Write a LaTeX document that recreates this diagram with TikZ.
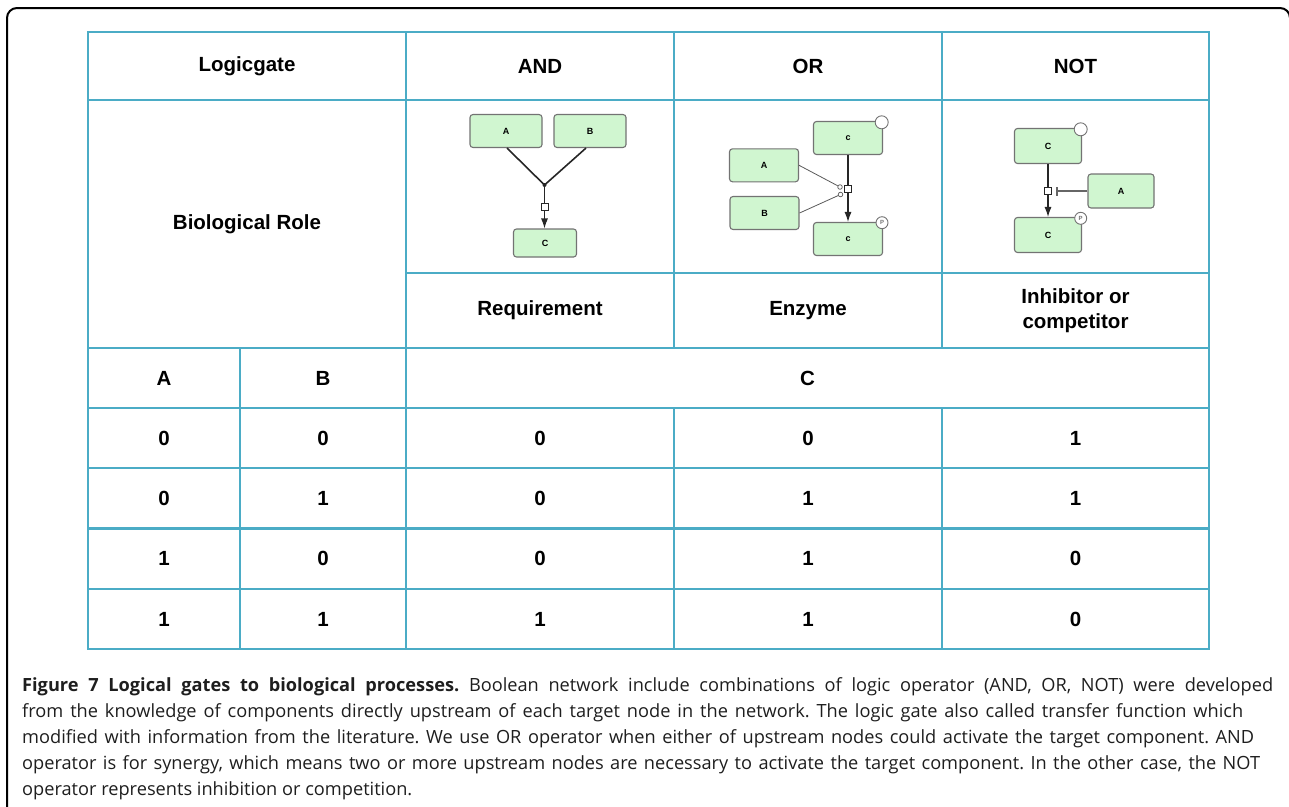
\documentclass[tikz,border=0pt]{standalone}
\usepackage{fontspec}
\setmainfont{Liberation Sans}
\newfontfamily\capfont{Open Sans}
\usetikzlibrary{arrows.meta}
\definecolor{tbl}{RGB}{75,172,198}
\definecolor{boxg}{RGB}{208,246,208}
\definecolor{boxb}{RGB}{115,115,115}
\definecolor{captxt}{RGB}{30,30,30}
\begin{document}
\frenchspacing
\begin{tikzpicture}[x=1pt,y=-1pt,
  hd/.style={font=\fontsize{20.5}{24.5}\selectfont\bfseries, align=center, inner sep=0pt},
  gbox/.style={draw=boxb, fill=boxg, rounded corners=3pt, line width=1.1pt,
    minimum width=69pt, minimum height=33pt, inner sep=0pt,
    font=\fontsize{9}{10}\selectfont\bfseries},
  ring/.style={circle, draw=boxb, fill=white, line width=0.9pt, inner sep=0pt, minimum size=13pt,
    font=\fontsize{6}{6}\selectfont\bfseries, text=boxb},
  sq/.style={draw=black!85, fill=white, minimum size=7pt, inner sep=0pt, line width=0.8pt},
  dk/.style={draw=black!85, line width=1.1pt},
  dkthick/.style={draw=black!85, line width=1.6pt},
  thin/.style={draw=black!65, line width=0.8pt},
  tip/.style={-{Latex[length=10pt,width=7pt]}},
  grid/.style={draw=tbl, line width=2.5pt},
  capline/.style={anchor=base west, inner sep=0pt, text=captxt, font=\capfont\fontsize{18.2}{20}\selectfont}
]
\useasboundingbox (0,0) rectangle (1289,806);
\clip (0,0) rectangle (1289,806);

% outer frame
\draw[line width=2pt, rounded corners=10pt] (7,820) -- (7,8) -- (1290,8) -- (1290,820);

% table grid
\draw[grid] (88,32) rectangle (1209,649);
\draw[grid] (88,100) -- (1209,100);
\draw[grid] (406,273) -- (1209,273);
\draw[grid] (88,348) -- (1209,348);
\draw[grid] (88,408) -- (1209,408);
\draw[grid] (88,468) -- (1209,468);
\draw[grid] (88,528.5) -- (1209,528.5);
\draw[grid] (88,589) -- (1209,589);
\draw[grid] (406,32) -- (406,649);
\draw[grid] (674,32) -- (674,348);
\draw[grid] (942,32) -- (942,348);
\draw[grid] (674,408) -- (674,649);
\draw[grid] (942,408) -- (942,649);
\draw[grid] (240,348) -- (240,649);

% header texts
\node[hd] (hLogic) at (247,66) {Logicgate};
\node[hd] (hAnd) at (540,66) {AND};
\node[hd] (hOr) at (808,66) {OR};
\node[hd] (hNot) at (1075.5,66) {NOT};
\node[hd] (hBio) at (247,224) {Biological Role};
\node[hd] (hReq) at (540,310.5) {Requirement};
\node[hd] (hEnz) at (808,310.5) {Enzyme};
\node[hd] (hInh) at (1075.5,310.5) {Inhibitor or\\competitor};
\node[hd] (hA) at (164,378) {A};
\node[hd] (hB) at (323,378) {B};
\node[hd] (hC) at (807.5,378) {C};

% data rows
\node[hd] (r1a) at (164,438) {0};
\node[hd] (r1b) at (323,438) {0};
\node[hd] (r1c) at (540,438) {0};
\node[hd] (r1d) at (808,438) {0};
\node[hd] (r1e) at (1075.5,438) {1};
\node[hd] (r2a) at (164,498) {0};
\node[hd] (r2b) at (323,498) {1};
\node[hd] (r2c) at (540,498) {0};
\node[hd] (r2d) at (808,498) {1};
\node[hd] (r2e) at (1075.5,498) {1};
\node[hd] (r3a) at (164,558.5) {1};
\node[hd] (r3b) at (323,558.5) {0};
\node[hd] (r3c) at (540,558.5) {0};
\node[hd] (r3d) at (808,558.5) {1};
\node[hd] (r3e) at (1075.5,558.5) {0};
\node[hd] (r4a) at (164,619) {1};
\node[hd] (r4b) at (323,619) {1};
\node[hd] (r4c) at (540,619) {1};
\node[hd] (r4d) at (808,619) {1};
\node[hd] (r4e) at (1075.5,619) {0};

% AND diagram
\node[gbox, minimum width=72pt] (andA) at (506,131) {A};
\node[gbox, minimum width=72pt] (andB) at (590,131) {B};
\node[gbox, minimum width=63pt, minimum height=28pt] (andC) at (545,243) {C};
\coordinate (andJ) at (544.5,185);
\node[sq] (andS) at (544.5,207) {};
\draw[dkthick] ([xshift=1pt]andA.south) -- (andJ);
\draw[dkthick] ([xshift=-4pt]andB.south) -- (andJ);
\fill[black!85] (andJ) circle (2pt);
\draw[dk] (andJ) -- (andS.north);
\draw[dk, tip] (andS.south) -- (andS.south |- andC.north);

% OR diagram
\node[gbox] (orC1) at (848,138) {c};
\node[ring] (orO1) at (881.7,122.3) {};
\node[gbox] (orA) at (764,165.3) {A};
\node[gbox] (orB) at (764.5,213) {B};
\node[gbox] (orC2) at (848,239) {c};
\node[ring, minimum size=12pt] (orP) at (882,222.7) {P};
\node[sq] (orS) at (848,189.3) {};
\node[circle, draw=black!65, fill=white, line width=0.7pt, minimum size=4.6pt, inner sep=0pt] (orc1) at (840,187) {};
\node[circle, draw=black!65, fill=white, line width=0.7pt, minimum size=4.6pt, inner sep=0pt] (orc2) at (840.5,194.5) {};
\draw[thin] (orA.east) -- (orc1);
\draw[thin] (orB.east) -- (orc2);
\draw[dk] (orC1.south) -- (orS.north);
\draw[dk, tip] (orS.south) -- (orC2.north);

% NOT diagram
\node[gbox, minimum width=67pt, minimum height=35pt] (notC1) at (1048,146) {C};
\node[ring] (notO1) at (1080.7,129.3) {};
\node[gbox, minimum width=66pt, minimum height=34pt] (notA) at (1121,191) {A};
\node[gbox, minimum width=67pt, minimum height=35pt] (notC2) at (1048,235) {C};
\node[ring, minimum size=12pt] (notP) at (1080.7,218.3) {P};
\node[sq] (notS) at (1048,190.7) {};
\coordinate (notBar) at (1056.3,191);
\draw[draw=black!60, line width=1.3pt, -{Bar[width=9pt,line width=1.3pt]}] (notA.west) -- (notBar);
\draw[dk] (notC1.south) -- (notS.north);
\draw[dk, tip] (notS.south) -- (notC2.north);

% caption
\node[capline] (cap1) at (22,691) {\makebox[1251pt][s]{\textbf{Figure 7 Logical gates to biological processes.} Boolean network include combinations of logic operator (AND, OR, NOT) were developed}};
\node[capline] (cap2) at (22,717) {\makebox[1221pt][s]{from the knowledge of components directly upstream of each target node in the network. The logic gate also called transfer function which}};
\node[capline] (cap3) at (22,743) {\makebox[1232pt][s]{modified with information from the literature. We use OR operator when either of upstream nodes could activate the target component. AND}};
\node[capline] (cap4) at (22,769) {\makebox[1238pt][s]{operator is for synergy, which means two or more upstream nodes are necessary to activate the target component. In the other case, the NOT}};
\node[capline] (cap5) at (22,795) {operator represents inhibition or competition.};
\end{tikzpicture}
\end{document}
